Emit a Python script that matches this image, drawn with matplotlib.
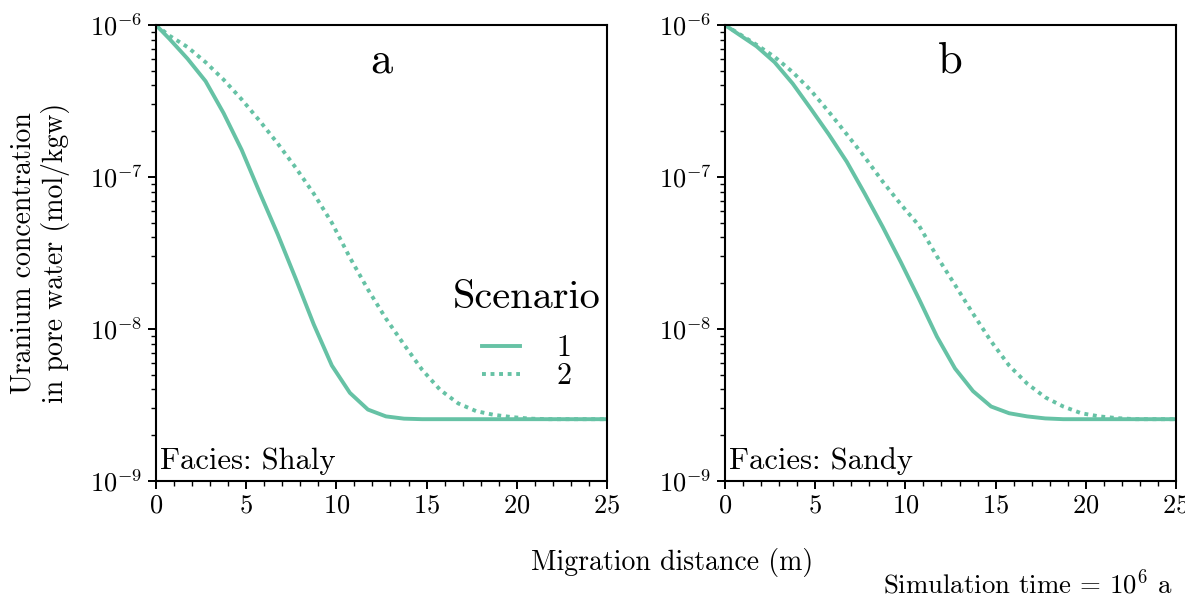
import matplotlib
matplotlib.use("Agg")
import matplotlib.pyplot as plt
from matplotlib.ticker import MultipleLocator, LogLocator, NullFormatter

plt.rcParams["font.family"] = "cmr10"
plt.rcParams["mathtext.fontset"] = "cm"
plt.rcParams["axes.formatter.use_mathtext"] = True
plt.rcParams["axes.unicode_minus"] = False

# migration distance (m)
distance = [0, 0.75, 1.75, 2.75, 3.75, 4.75, 5.75, 6.75, 7.75, 8.75, 9.75,
            10.75, 11.75, 12.75, 13.75, 14.75, 15.75, 16.75, 17.75, 18.75,
            19.75, 20.75, 21.75, 22.75, 23.75, 24.75, 25]

# uranium concentration in pore water (mol/kgw)
shaly_s1 = [1.0e-6, 8.1e-7, 6.0e-7, 4.27e-7, 2.63e-7, 1.51e-7, 7.9e-8, 4.2e-8,
            2.14e-8, 1.07e-8, 5.75e-9, 3.8e-9, 2.95e-9, 2.66e-9, 2.57e-9,
            2.55e-9, 2.55e-9, 2.55e-9, 2.55e-9, 2.55e-9, 2.55e-9, 2.55e-9,
            2.55e-9, 2.55e-9, 2.55e-9, 2.55e-9, 2.55e-9]
shaly_s2 = [1.0e-6, 8.5e-7, 7.16e-7, 5.69e-7, 4.37e-7, 3.24e-7, 2.34e-7, 1.66e-7,
            1.15e-7, 7.76e-8, 5.0e-8, 2.95e-8, 1.82e-8, 1.17e-8, 7.9e-9,
            5.4e-9, 3.98e-9, 3.24e-9, 2.88e-9, 2.72e-9, 2.63e-9, 2.57e-9,
            2.55e-9, 2.55e-9, 2.55e-9, 2.55e-9, 2.55e-9]
sandy_s1 = [1.0e-6, 8.7e-7, 7.24e-7, 5.69e-7, 4.12e-7, 2.82e-7, 1.91e-7, 1.26e-7,
            7.76e-8, 4.68e-8, 2.75e-8, 1.58e-8, 8.9e-9, 5.5e-9, 3.9e-9,
            3.09e-9, 2.79e-9, 2.66e-9, 2.58e-9, 2.55e-9, 2.55e-9, 2.55e-9,
            2.55e-9, 2.55e-9, 2.55e-9, 2.55e-9, 2.55e-9]
sandy_s2 = [1.0e-6, 8.8e-7, 7.41e-7, 6.17e-7, 4.9e-7, 3.72e-7, 2.69e-7, 1.91e-7,
            1.35e-7, 9.3e-8, 6.6e-8, 4.8e-8, 3.0e-8, 1.95e-8, 1.26e-8,
            8.3e-9, 5.75e-9, 4.37e-9, 3.55e-9, 3.09e-9, 2.79e-9, 2.66e-9,
            2.59e-9, 2.55e-9, 2.55e-9, 2.55e-9, 2.55e-9]

panels = [("a", "Shaly", shaly_s1, shaly_s2), ("b", "Sandy", sandy_s1, sandy_s2)]
color = "#66c2a5"

fig = plt.figure(figsize=(11.85, 5.98), dpi=100)
axes = [fig.add_axes([0.1316, 0.1957, 0.3806, 0.7625]),
        fig.add_axes([0.6118, 0.1957, 0.3806, 0.7625])]

for ax, (tag, facies, s1, s2) in zip(axes, panels):
    ax.plot(distance, s1, color=color, lw=2.8, label="1")
    ax.plot(distance, s2, color=color, lw=2.8, linestyle=(0, (1, 1.2)), label="2")
    ax.set_yscale("log")
    ax.set_xlim(0, 25)
    ax.set_ylim(1e-9, 1e-6)
    ax.xaxis.set_major_locator(MultipleLocator(5))
    ax.xaxis.set_minor_locator(MultipleLocator(1))
    ax.yaxis.set_major_locator(LogLocator(base=10, numticks=10))
    ax.yaxis.set_minor_locator(LogLocator(base=10, subs=range(2, 10), numticks=10))
    ax.yaxis.set_minor_formatter(NullFormatter())
    ax.tick_params(which="major", direction="out", length=6, width=1.4, labelsize=19)
    ax.tick_params(which="minor", direction="out", length=3.5, width=1.0)
    for sp in ax.spines.values():
        sp.set_linewidth(1.5)
    ax.text(0.5, 0.92, tag, transform=ax.transAxes, ha="center", va="center", fontsize=32)
    ax.text(0.01, 0.012, f"Facies: {facies}", transform=ax.transAxes,
            ha="left", va="bottom", fontsize=22)

leg = axes[0].legend(title="Scenario", loc="center right", bbox_to_anchor=(1.045, 0.32),
                     frameon=False, fontsize=21.5, title_fontsize=29,
                     handlelength=1.3, handletextpad=1.2, labelspacing=0.02)
# extra gap between the legend title and its entries
leg._legend_box.sep = 14

fig.text(0.034, 0.577, "Uranium concentration\nin pore water (mol/kgw)",
         rotation=90, ha="center", va="center", fontsize=20, multialignment="center")
fig.text(0.567, 0.06, "Migration distance (m)", ha="center", va="center", fontsize=20)
fig.text(0.989, 0.025, r"Simulation time = $10^6$ a", ha="right", va="center", fontsize=19.3)

fig.savefig("out.png", dpi=100)
